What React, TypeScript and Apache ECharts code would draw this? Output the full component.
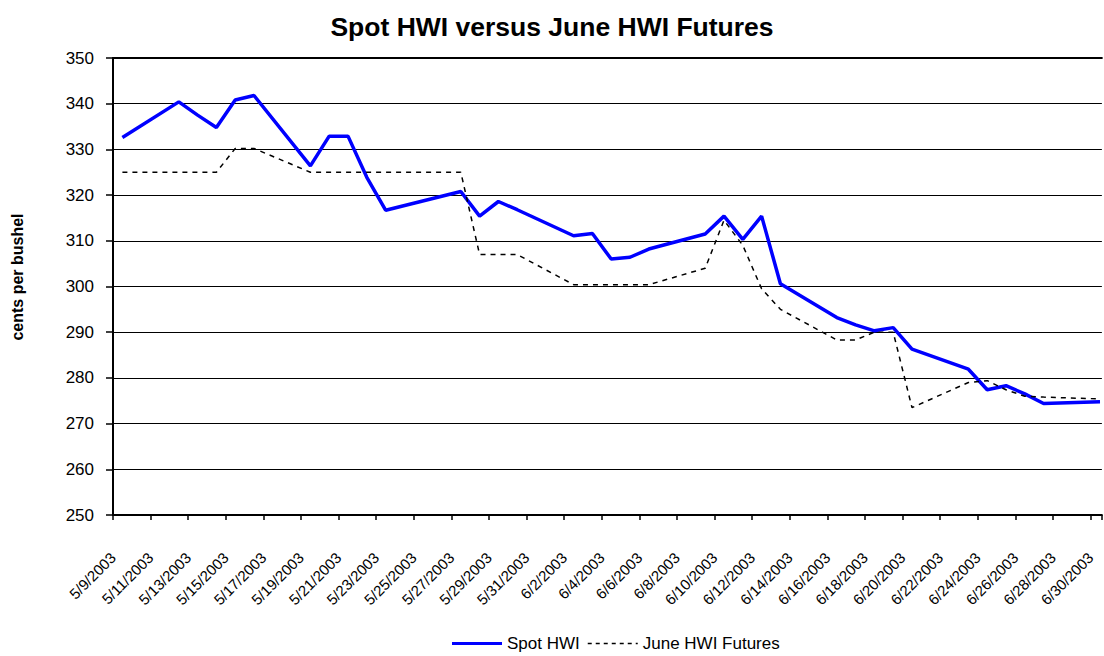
import React, { useEffect, useRef } from "react";
import * as echarts from "echarts";

const dates = [
  "5/9/2003", "5/12/2003", "5/13/2003", "5/14/2003", "5/15/2003", "5/16/2003",
  "5/19/2003", "5/20/2003", "5/21/2003", "5/22/2003", "5/23/2003",
  "5/27/2003", "5/28/2003", "5/29/2003", "5/30/2003",
  "6/2/2003", "6/3/2003", "6/4/2003", "6/5/2003", "6/6/2003",
  "6/9/2003", "6/10/2003", "6/11/2003", "6/12/2003", "6/13/2003",
  "6/16/2003", "6/17/2003", "6/18/2003", "6/19/2003", "6/20/2003",
  "6/23/2003", "6/24/2003", "6/25/2003", "6/26/2003", "6/27/2003",
  "6/30/2003",
];

const spotHWI = [
  332.6, 340.4, 337.5, 334.8, 340.8, 341.8,
  326.4, 332.9, 332.9, 323.9, 316.7,
  320.8, 315.4, 318.6, 316.8,
  311.1, 311.6, 306.0, 306.4, 308.2,
  311.5, 315.4, 310.3, 315.4, 300.6,
  293.2, 291.6, 290.3, 291.0, 286.3,
  281.9, 277.4, 278.3, 276.5, 274.4,
  274.8,
];

const juneFutures = [
  325, 325, 325, 325, 330.2, 330.2,
  325, 325, 325, 325, 325,
  325, 307, 307, 307,
  300.4, 300.4, 300.4, 300.4, 300.4,
  304, 314.5, 309, 299.5, 295,
  288.3, 288.3, 290, 290, 273.5,
  279, 279.4, 277.4, 276, 275.8,
  275.4,
];

const yMin = 250;
const yMax = 350;
const yStep = 10;
const xStepDays = 2;

const START = Date.UTC(2003, 4, 9);
const DAY = 86400000;

function parseDate(s: string): number {
  const [m, d, y] = s.split("/").map(Number);
  return Date.UTC(y, m - 1, d);
}
// each day occupies one unit; a point sits in the middle of its day
function dayPos(s: string): number {
  return (parseDate(s) - START) / DAY + 0.5;
}
function fmtTick(v: number): string {
  if (Math.abs(v - Math.round(v)) > 1e-6) return "";
  const dt = new Date(START + Math.round(v) * DAY);
  return `${dt.getUTCMonth() + 1}/${dt.getUTCDate()}/${dt.getUTCFullYear()}`;
}

const FONT = "'Liberation Sans', Arial, sans-serif";

// legend icons: 50x6 boxes (solid bar / dashed bar)
const SOLID_ICON = "path://M0,0M50,6M0,1.5H50V4.5H0Z";
const DASH_ICON =
  "path://M0,0M50,6" +
  [0, 8, 16, 24, 32, 40, 48]
    .map((x) => `M${x},2.3h${Math.min(4, 50 - x)}v1.4h-${Math.min(4, 50 - x)}Z`)
    .join("");

export default function App() {
  const ref = useRef<HTMLDivElement>(null);
  useEffect(() => {
    if (!ref.current) return;
    const chart = echarts.init(ref.current, undefined, { renderer: "svg" });
    const spotData = dates.map((d, i) => [dayPos(d), spotHWI[i]]);
    const futData = dates.map((d, i) => [dayPos(d), juneFutures[i]]);
    const xMax = 52.6;
    chart.setOption({
      animation: false,
      backgroundColor: "#ffffff",
      textStyle: { fontFamily: FONT, color: "#000" },
      title: {
        text: "Spot HWI versus June HWI Futures",
        left: "center",
        top: 8,
        textStyle: { fontFamily: FONT, fontSize: 26.5, fontWeight: "bold", color: "#000" },
      },
      legend: {
        left: 447,
        top: 630,
        itemWidth: 50,
        itemHeight: 6,
        itemGap: 8,
        symbolKeepAspect: true,
        textStyle: { fontFamily: FONT, fontSize: 17, color: "#000" },
        data: [
          { name: "Spot HWI", icon: SOLID_ICON, itemStyle: { color: "#0000ff" } },
          { name: "June HWI Futures", icon: DASH_ICON, itemStyle: { color: "#000000" } },
        ],
      },
      grid: { left: 113, right: 0, top: 58, bottom: 141, containLabel: false },
      graphic: [
        {
          type: "text",
          x: 17,
          y: 277,
          rotation: Math.PI / 2,
          style: {
            text: "cents per bushel",
            font: `bold 16px ${FONT}`,
            fill: "#000",
            align: "center",
            verticalAlign: "middle",
          },
        },
      ],
      xAxis: [
        {
          type: "value",
          min: 0,
          max: xMax,
          interval: xStepDays,
          axisLine: { show: true, lineStyle: { color: "#000", width: 2 } },
          axisTick: { show: true, length: 5, lineStyle: { color: "#000", width: 1.5 } },
          splitLine: { show: false },
          axisLabel: {
            rotate: 45,
            margin: 40,
            fontSize: 15,
            fontFamily: FONT,
            color: "#000",
            formatter: (v: number) => fmtTick(v),
          },
        },
        {
          type: "value",
          position: "top",
          min: 0,
          max: xMax,
          interval: xStepDays,
          axisLine: { show: true, onZero: false, lineStyle: { color: "#000", width: 2 } },
          axisTick: { show: false },
          axisLabel: { show: false },
          splitLine: { show: false },
        },
      ],
      yAxis: {
        type: "value",
        min: yMin,
        max: yMax,
        interval: yStep,
        axisLine: { show: true, lineStyle: { color: "#000", width: 2 } },
        axisTick: { show: true, length: 7, lineStyle: { color: "#000", width: 1.5 } },
        splitLine: { show: true, lineStyle: { color: "#000", width: 1 } },
        axisLabel: { fontSize: 17, margin: 19, fontFamily: FONT, color: "#000" },
      },
      series: [
        {
          name: "Spot HWI",
          type: "line",
          data: spotData,
          showSymbol: false,
          symbol: "none",
          lineStyle: { color: "#0000ff", width: 3.5 },
          itemStyle: { color: "#0000ff" },
        },
        {
          name: "June HWI Futures",
          type: "line",
          data: futData,
          showSymbol: false,
          symbol: "none",
          lineStyle: { color: "#000000", width: 1.5, type: [5, 5] },
          itemStyle: { color: "#000000" },
        },
      ],
    });
    return () => chart.dispose();
  }, []);
  return (
    <div
      ref={ref}
      style={{ position: "absolute", left: 0, top: 0, width: 1104, height: 656 }}
    />
  );
}
